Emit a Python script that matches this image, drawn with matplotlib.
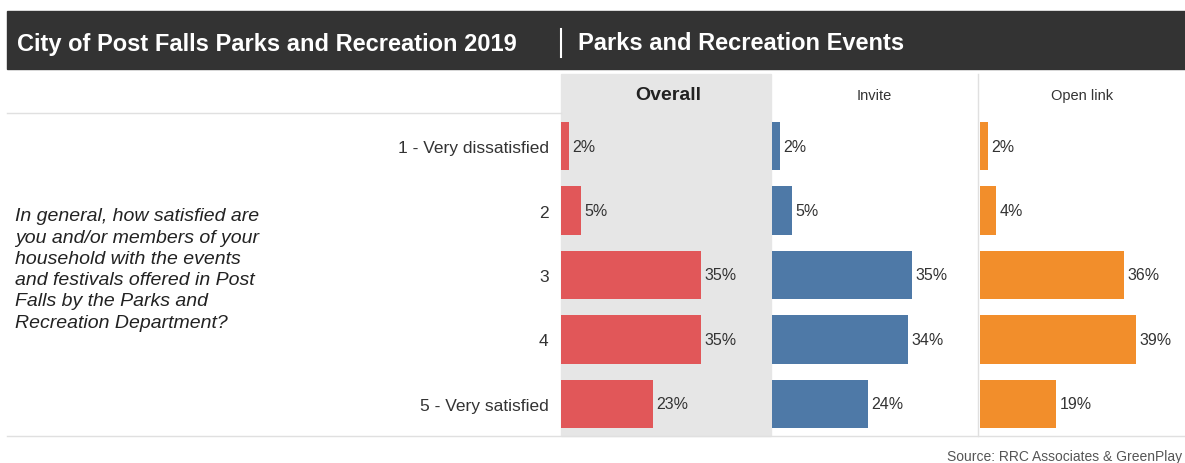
import matplotlib
matplotlib.use("Agg")
import matplotlib.pyplot as plt
from matplotlib.patches import Rectangle
from matplotlib.lines import Line2D

categories = ["1 - Very dissatisfied", "2", "3", "4", "5 - Very satisfied"]
overall = [2, 5, 35, 35, 23]
invite = [2, 5, 35, 34, 24]
open_link = [2, 4, 36, 39, 19]
panel_titles = ["Overall", "Invite", "Open link"]
question = ("In general, how satisfied are\nyou and/or members of your\nhousehold with the events\n"
            "and festivals offered in Post\nFalls by the Parks and\nRecreation Department?")

W, H = 1185, 464
fig = plt.figure(figsize=(W / 100, H / 100), dpi=100)
plt.rcParams['font.family'] = ['Liberation Sans', 'DejaVu Sans']

def fx(px):
    return px / W

def fy(py):
    return 1 - py / H

# header band
fig.patches.append(Rectangle((fx(7), fy(70)), fx(1185) - fx(7), fy(12) - fy(70),
                             transform=fig.transFigure, color="#333333", zorder=0))
fig.text(fx(17), fy(44), "City of Post Falls Parks and Recreation 2019", color="white",
         fontsize=17, fontweight="bold", va="center", ha="left")
fig.lines.append(Line2D([fx(561), fx(561)], [fy(30), fy(58)], transform=fig.transFigure,
                        color="white", lw=1.5))
fig.text(fx(578), fy(44), "Parks and Recreation Events", color="white",
         fontsize=17, fontweight="bold", va="center", ha="left")

# overall gray background
fig.patches.append(Rectangle((fx(561), fy(437)), fx(771) - fx(561), fy(75) - fy(437),
                             transform=fig.transFigure, color="#E6E6E6", zorder=0))
# separators
fig.lines.append(Line2D([fx(7), fx(561)], [fy(114), fy(114)], transform=fig.transFigure,
                        color="#E0E0E0", lw=1))
fig.lines.append(Line2D([fx(7), fx(1185)], [fy(437), fy(437)], transform=fig.transFigure,
                        color="#E0E0E0", lw=1))
fig.lines.append(Line2D([fx(978), fx(978)], [fy(75), fy(437)], transform=fig.transFigure,
                        color="#E0E0E0", lw=1))

# question text
fig.text(fx(15), fy(270), question, style="italic", fontsize=14, ha="left", va="center",
         color="#222222", linespacing=1.33)

# source
fig.text(fx(1182), fy(457), "Source: RRC Associates & GreenPlay", fontsize=10,
         color="#555555", ha="right", va="center")

series = [overall, invite, open_link]
colors = ["#E15759", "#4E79A7", "#F28E2B"]
lefts = [561, 772, 980]
px_per_pct = 4.0
panel_w = 205
top, bottom = 115, 437

for i, (vals, col, lx, ttl) in enumerate(zip(series, colors, lefts, panel_titles)):
    ax = fig.add_axes([fx(lx), fy(bottom), panel_w / W, (bottom - top) / H])
    ax.set_zorder(2)
    ax.set_facecolor("none")
    ax.barh(range(len(categories)), vals, height=0.75, color=col)
    ax.set_xlim(0, panel_w / px_per_pct)
    ax.set_ylim(len(categories) - 0.5, -0.5)
    for j, v in enumerate(vals):
        ax.text(v + 0.9, j, f"{v}%", va="center", ha="left", fontsize=11.5, color="#333333")
    for s in ax.spines.values():
        s.set_visible(False)
    ax.set_xticks([])
    if i == 0:
        ax.set_yticks(range(len(categories)))
        ax.set_yticklabels(categories, fontsize=12.5, color="#333333")
        ax.tick_params(axis="y", length=0, pad=9)
    else:
        ax.set_yticks([])
    cx = lx + panel_w / 2 + (5 if i == 0 else 0)
    if i == 0:
        fig.text(fx(cx), fy(96), ttl, fontsize=14, fontweight="bold", ha="center",
                 va="center", color="#222222")
    else:
        fig.text(fx(cx), fy(96), ttl, fontsize=10.5, ha="center", va="center", color="#333333")

fig.savefig("out.png", dpi=100)
